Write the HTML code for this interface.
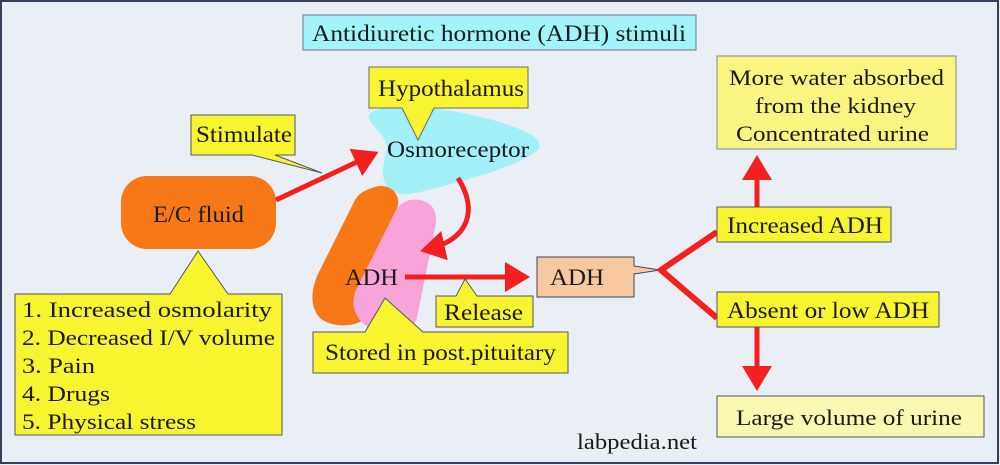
<!DOCTYPE html>
<html><head><meta charset="utf-8"><style>
body{margin:0;background:#e9eff4}
svg{display:block}
text{font-family:"Liberation Serif","Times New Roman",serif;fill:#1a1a1a}
</style></head><body>
<svg width="1000" height="465" viewBox="0 0 1000 465" xmlns="http://www.w3.org/2000/svg">
<defs>
<marker id="ah" markerWidth="6" markerHeight="6" refX="4" refY="3" orient="auto" markerUnits="strokeWidth"><path d="M0,0 L5,3 L0,6 Z" fill="#f42020"/></marker>
</defs>
<rect x="0" y="0" width="1000" height="465" fill="#e9eff4"/>
<rect x="1" y="1" width="997" height="462" fill="none" stroke="#34405a" stroke-width="2"/>
<rect x="303" y="15" width="393" height="35" fill="#a2f4fa" stroke="#778" stroke-width="1"/>
<text x="312" y="41" font-size="23" textLength="374" lengthAdjust="spacingAndGlyphs">Antidiuretic hormone (ADH) stimuli</text>
<path d="M372,112 C395,100 450,108 500,122 C530,132 545,140 538,150 C520,165 470,180 420,192 C395,198 385,190 383,175 C382,160 390,150 385,140 C378,128 362,118 372,112 Z" fill="#a2f0f8"/>
<polygon points="369,67 528,67 528,108 434,108 418,140 402,108 369,108" fill="#f8f530" stroke="#667" stroke-width="1"/>
<text x="378" y="96" font-size="23" textLength="146" lengthAdjust="spacingAndGlyphs">Hypothalamus</text>
<text x="387" y="157" font-size="23" textLength="142" lengthAdjust="spacingAndGlyphs">Osmoreceptor</text>
<polygon points="191,115 295,115 295,155 275,155 322,173 252,155 191,155" fill="#f8f530" stroke="#556" stroke-width="1"/>
<text x="196" y="142" font-size="23" textLength="96" lengthAdjust="spacingAndGlyphs">Stimulate</text>
<rect x="121" y="176" width="155" height="73" rx="26" fill="#f87818"/>
<text x="153" y="222" font-size="23" textLength="91" lengthAdjust="spacingAndGlyphs">E/C fluid</text>
<line x1="276" y1="200" x2="374" y2="154" stroke="#f42020" stroke-width="5" marker-end="url(#ah)"/>
<polygon points="15,294 170,294 198,251 228,294 282,294 282,435 15,435" fill="#f8f530" stroke="#556" stroke-width="1"/>
<g font-size="22">
<text x="22" y="317" textLength="250" lengthAdjust="spacingAndGlyphs">1. Increased osmolarity</text>
<text x="22" y="345" textLength="253" lengthAdjust="spacingAndGlyphs">2. Decreased I/V volume</text>
<text x="22" y="373" textLength="73" lengthAdjust="spacingAndGlyphs">3. Pain</text>
<text x="22" y="401" textLength="88" lengthAdjust="spacingAndGlyphs">4. Drugs</text>
<text x="22" y="429" textLength="174" lengthAdjust="spacingAndGlyphs">5. Physical stress</text>
</g>
<path d="M372,188 C385,182 400,190 398,205 L370,310 C365,330 330,328 320,318 C308,305 312,285 320,270 L355,200 C360,192 366,190 372,188 Z" fill="#f87818"/>
<path d="M420,200 C435,203 438,215 435,228 L417,318 C412,335 385,335 370,328 C355,320 350,305 356,290 L395,212 C400,202 410,198 420,200 Z" fill="#f8a4d8"/>
<text x="345" y="285" font-size="23" textLength="53" lengthAdjust="spacingAndGlyphs">ADH</text>
<path d="M458,178 C478,210 470,240 425,250" fill="none" stroke="#f42020" stroke-width="5" marker-end="url(#ah)"/>
<line x1="405" y1="277" x2="525" y2="277" stroke="#f42020" stroke-width="5" marker-end="url(#ah)"/>
<polygon points="436,296 456,296 465,279 477,296 533,296 533,327 436,327" fill="#f8f530" stroke="#556" stroke-width="1"/>
<text x="444" y="320" font-size="23" textLength="79" lengthAdjust="spacingAndGlyphs">Release</text>
<polygon points="313,332 365,332 385,298 423,332 568,332 568,373 313,373" fill="#f8f530" stroke="#556" stroke-width="1"/>
<text x="325" y="360" font-size="23" textLength="231" lengthAdjust="spacingAndGlyphs">Stored in post.pituitary</text>
<polygon points="537,257 634,257 634,266 660,270 634,274 634,297 537,297" fill="#f8c8a0" stroke="#445" stroke-width="1"/>
<text x="550" y="285" font-size="23" textLength="54" lengthAdjust="spacingAndGlyphs">ADH</text>
<polyline points="717,232 661,270 717,318" fill="none" stroke="#f42020" stroke-width="6"/>
<line x1="757" y1="207" x2="757" y2="160" stroke="#f42020" stroke-width="5" marker-end="url(#ah)"/>
<line x1="757" y1="327" x2="757" y2="386" stroke="#f42020" stroke-width="5" marker-end="url(#ah)"/>
<rect x="717" y="207" width="174" height="35" fill="#f8f530" stroke="#556" stroke-width="1"/>
<text x="727" y="233" font-size="23" textLength="156" lengthAdjust="spacingAndGlyphs">Increased ADH</text>
<rect x="717" y="292" width="222" height="35" fill="#f8f530" stroke="#556" stroke-width="1"/>
<text x="727" y="318" font-size="23" textLength="202" lengthAdjust="spacingAndGlyphs">Absent or low ADH</text>
<rect x="717" y="56" width="239" height="93" fill="#f8f680" stroke="#889" stroke-width="1"/>
<text x="729" y="85" font-size="22" textLength="215" lengthAdjust="spacingAndGlyphs">More water absorbed</text>
<text x="755" y="113" font-size="22" textLength="161" lengthAdjust="spacingAndGlyphs">from the kidney</text>
<text x="736" y="141" font-size="22" textLength="193" lengthAdjust="spacingAndGlyphs">Concentrated urine</text>
<rect x="717" y="396" width="267" height="41" fill="#f8f8b0" stroke="#556" stroke-width="1"/>
<text x="736" y="425" font-size="22" textLength="226" lengthAdjust="spacingAndGlyphs">Large volume of urine</text>
<text x="577" y="449" font-size="22" textLength="120" lengthAdjust="spacingAndGlyphs">labpedia.net</text>
</svg>
</body></html>
